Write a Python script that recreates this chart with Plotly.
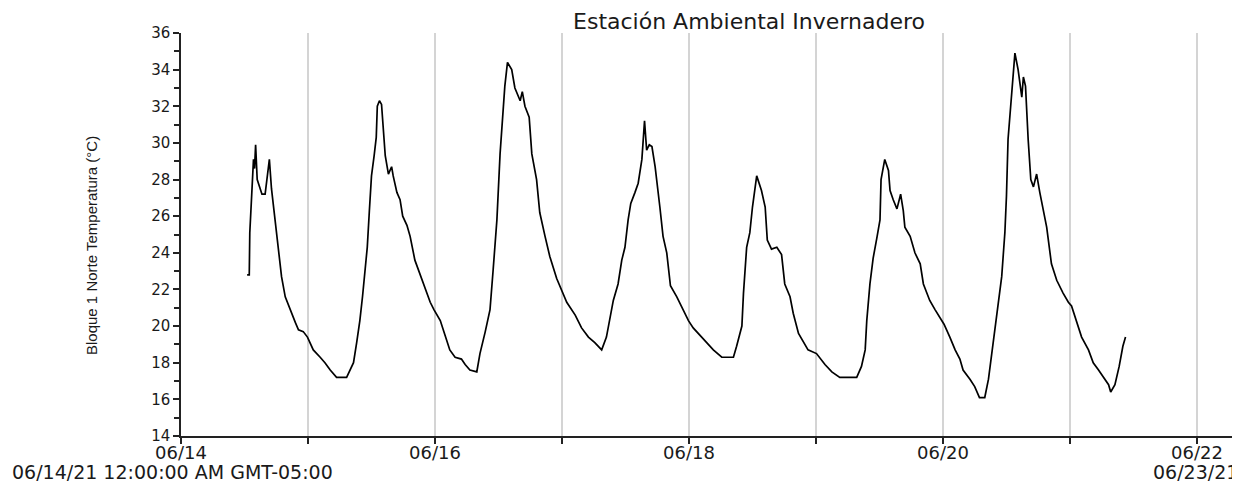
import pandas as pd
import plotly.graph_objects as go

# hours elapsed since 06/14/21 00:00 (GMT-05:00)
hours = [12.5, 12.9, 13.0, 13.4, 13.7, 13.9, 14.1, 14.4, 15.3, 15.9, 16.2, 16.7, 17.1, 17.8, 18.4, 19.0,
         19.7, 20.6, 21.6, 22.2, 23.1, 23.9, 25.0, 26.3, 27.2, 28.2, 29.4, 31.3, 31.9, 32.6, 33.2, 33.8,
         34.3, 34.8, 35.2, 35.6, 36.0, 36.5, 36.9, 37.1, 37.5, 37.9, 38.2, 38.6, 39.2, 39.8, 40.1, 40.8,
         41.4, 41.9, 42.7, 43.3, 44.2, 45.2, 46.1, 47.1, 47.8, 49.0, 49.9, 50.8, 51.8, 53.0, 53.7, 54.6,
         55.9, 56.5, 57.5, 58.4, 59.0, 59.7, 60.3, 60.9, 61.2, 61.7, 62.5, 63.1, 64.1, 64.5, 65.0, 65.8,
         66.3, 67.2, 67.8, 68.8, 69.7, 71.0, 71.9, 72.9, 74.5, 75.7, 77.0, 78.2, 79.5, 80.4, 81.7, 82.6,
         83.3, 83.9, 84.5, 85.0, 85.8, 86.4, 87.1, 87.6, 88.0, 88.5, 89.0, 89.6, 90.5, 91.1, 91.8, 92.5,
         93.7, 94.6, 95.9, 96.8, 98.1, 99.3, 100.6, 102.2, 104.4, 105.0, 106.0, 106.3, 106.9, 107.5, 108.0, 108.8,
         109.7, 110.4, 110.8, 111.6, 112.6, 113.5, 114.1, 115.1, 115.7, 116.7, 117.9, 118.5, 120.1, 121.7, 123.0, 124.5,
         127.7, 128.6, 129.3, 129.6, 130.2, 130.8, 131.5, 132.1, 132.3, 133.0, 133.7, 134.0, 134.6, 135.3, 136.0, 136.5,
         136.8, 137.8, 138.7, 139.7, 140.3, 141.5, 142.5, 143.4, 144.2, 145.3, 146.3, 147.2, 147.8, 149.1, 150.0, 150.9,
         151.9, 152.6, 153.2, 153.8, 154.5, 155.1, 155.7, 156.0, 156.3, 156.8, 157.3, 157.6, 158.2, 158.9, 159.2, 159.6,
         160.1, 160.6, 161.1, 161.7, 162.3, 163.0, 163.6, 164.5, 165.5, 166.7, 167.7, 168.3, 169.3, 170.2, 171.5, 172.4,
         173.4, 174.3, 175.3, 175.7, 176.5, 177.3, 178.0, 178.5]

# Bloque 1 Norte Temperatura (°C)
temps = [22.8, 22.8, 25.1, 27.3, 29.1, 28.6, 29.9, 28.0, 27.2, 27.2, 27.9, 29.1, 27.5, 25.6, 24.2, 22.7,
         21.6, 20.9, 20.2, 19.8, 19.7, 19.4, 18.7, 18.3, 18.0, 17.6, 17.2, 17.2, 17.6, 18.0, 19.1, 20.3,
         21.6, 22.9, 24.3, 26.3, 28.2, 29.3, 30.3, 32.0, 32.3, 32.1, 30.7, 29.3, 28.3, 28.7, 28.2, 27.3,
         26.9, 26.0, 25.5, 24.9, 23.6, 22.8, 22.2, 21.3, 20.9, 20.3, 19.5, 18.7, 18.3, 18.2, 17.9, 17.6,
         17.5, 18.5, 19.7, 20.9, 23.1, 25.8, 29.4, 31.8, 33.1, 34.4, 34.0, 33.0, 32.3, 32.8, 32.0, 31.4,
         29.4, 28.0, 26.2, 24.9, 23.8, 22.6, 22.0, 21.3, 20.6, 19.9, 19.4, 19.1, 18.7, 19.4, 21.4, 22.3,
         23.6, 24.3, 25.8, 26.7, 27.3, 27.8, 29.1, 31.2, 29.6, 29.9, 29.8, 28.7, 26.5, 24.9, 24.0, 22.2,
         21.6, 21.1, 20.3, 19.9, 19.5, 19.1, 18.7, 18.3, 18.3, 18.9, 20.0, 21.8, 24.3, 25.1, 26.5, 28.2,
         27.4, 26.5, 24.7, 24.2, 24.3, 23.9, 22.3, 21.6, 20.7, 19.6, 19.0, 18.7, 18.5, 17.9, 17.5, 17.2,
         17.2, 17.8, 18.7, 20.3, 22.3, 23.7, 24.8, 25.8, 28.0, 29.1, 28.5, 27.4, 26.9, 26.4, 27.2, 26.3,
         25.4, 24.9, 24.0, 23.4, 22.3, 21.4, 20.9, 20.5, 20.1, 19.4, 18.7, 18.2, 17.6, 17.1, 16.7, 16.1,
         16.1, 17.1, 18.5, 19.8, 21.3, 22.7, 25.1, 27.1, 30.2, 32.2, 34.2, 34.9, 34.0, 32.5, 33.6, 33.1,
         30.2, 28.0, 27.6, 28.3, 27.3, 26.3, 25.4, 23.4, 22.5, 21.8, 21.3, 21.1, 20.2, 19.4, 18.7, 18.0,
         17.6, 17.2, 16.8, 16.4, 16.8, 17.8, 18.9, 19.4]

start = pd.Timestamp("2021-06-14 00:00:00")
times = start + pd.to_timedelta(hours, unit="h")
x_end = start + pd.Timedelta(days=8.339)

title_text = "Estación Ambiental Invernadero"
y_title = "Bloque 1 Norte Temperatura (°C)"
start_label = "06/14/21 12:00:00 AM GMT-05:00"
end_label = "06/23/21"

FONT = "DejaVu Sans"
OFF = 8  # page body margin offset compensation
W, H = 1240 - OFF, 483 - OFF
L, T, B = 181 - OFF, 33 - OFF, 47
PW, PH = W - L, H - T - B

fig = go.Figure()
fig.add_trace(go.Scatter(x=times, y=temps, mode="lines",
                         line=dict(color="#000000", width=1.7),
                         showlegend=False, hoverinfo="x+y"))

fig.update_layout(
    width=W, height=H,
    margin=dict(l=L, r=0, t=T, b=B, autoexpand=False),
    paper_bgcolor="white", plot_bgcolor="white",
    title=dict(text=title_text, x=(749 - OFF) / W, xanchor="center",
               y=1 - (21 - OFF) / H, yanchor="middle", yref="container",
               font=dict(family=FONT, size=22, color="#1a1a1a")),
    font=dict(family=FONT, size=16, color="#1a1a1a"),
)

fig.update_xaxes(
    type="date",
    range=[start, x_end],
    tick0=start, dtick=2 * 86400000,
    tickformat="%m/%d",
    ticks="outside", ticklen=6, tickwidth=1.5, tickcolor="#222",
    showline=True, linecolor="#222", linewidth=1.5,
    showgrid=True, gridcolor="#d4d4d4", gridwidth=1.5,
    minor=dict(dtick=86400000, tick0=start, ticks="outside", ticklen=6,
               tickcolor="#222", showgrid=True, gridcolor="#d4d4d4", gridwidth=1.5),
    tickfont=dict(family=FONT, size=18, color="#1a1a1a"),
    ticklabelstandoff=-6,
    zeroline=False, automargin=False,
)

fig.update_yaxes(
    range=[14, 36], dtick=2, tick0=14,
    ticks="outside", ticklen=6, tickwidth=1.5, tickcolor="#222",
    showline=True, linecolor="#222", linewidth=1.5,
    showgrid=False, zeroline=False, automargin=False,
    minor=dict(dtick=1, ticks="outside", ticklen=5, tickcolor="#222", showgrid=False),
    tickfont=dict(family=FONT, size=15, color="#1a1a1a"),
)

fig.add_annotation(text=y_title, xref="paper", yref="paper",
                   x=(91 - 181) / PW, y=(436 - 246) / PH,
                   xanchor="center", yanchor="middle", textangle=-90,
                   showarrow=False, font=dict(family="Liberation Sans", size=15, color="#1a1a1a"))
fig.add_annotation(text=start_label, xref="paper", yref="paper",
                   x=(10 - 181) / PW, y=-(472 - 436) / PH,
                   xanchor="left", yanchor="middle",
                   showarrow=False, font=dict(family=FONT, size=19, color="#1a1a1a"))
fig.add_annotation(text=end_label, xref="paper", yref="paper",
                   x=(1240 - 181) / PW, y=-(472 - 436) / PH,
                   xanchor="right", yanchor="middle",
                   showarrow=False, font=dict(family=FONT, size=19, color="#1a1a1a"))

fig.write_html("out.html")
